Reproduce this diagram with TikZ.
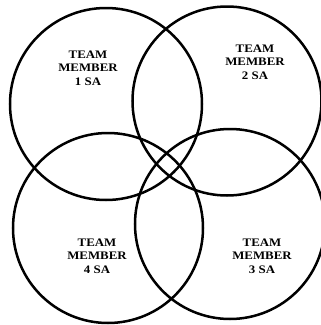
\documentclass[tikz,border=0pt]{standalone}
\usepackage{fontspec}
\setmainfont{Liberation Serif}
\begin{document}
\begin{tikzpicture}[x=1pt,y=-1pt,
  ring/.style={draw=black,line width=2.5pt,circle,minimum size=#1,inner sep=0pt},
  lbl/.style={font=\bfseries\fontsize{11.5}{13.5}\selectfont,align=center,text=black,xscale=1.12}]
\useasboundingbox (0,0) rectangle (321,325);
\fill[white] (0,0) rectangle (321,325);
\node[ring=192pt] (c1) at (106,104) {};
\node[ring=189pt] (c2) at (227,101) {};
\node[ring=190pt] (c4) at (108,228) {};
\node[ring=190pt] (c3) at (230,224) {};
\node[lbl] (t1) at (88,68) {TEAM\\MEMBER\\1 SA};
\node[lbl] (t2) at (255,62) {TEAM\\MEMBER\\2 SA};
\node[lbl] (t4) at (97,256) {TEAM\\MEMBER\\4 SA};
\node[lbl] (t3) at (262,256) {TEAM\\MEMBER\\3 SA};
\end{tikzpicture}
\end{document}
